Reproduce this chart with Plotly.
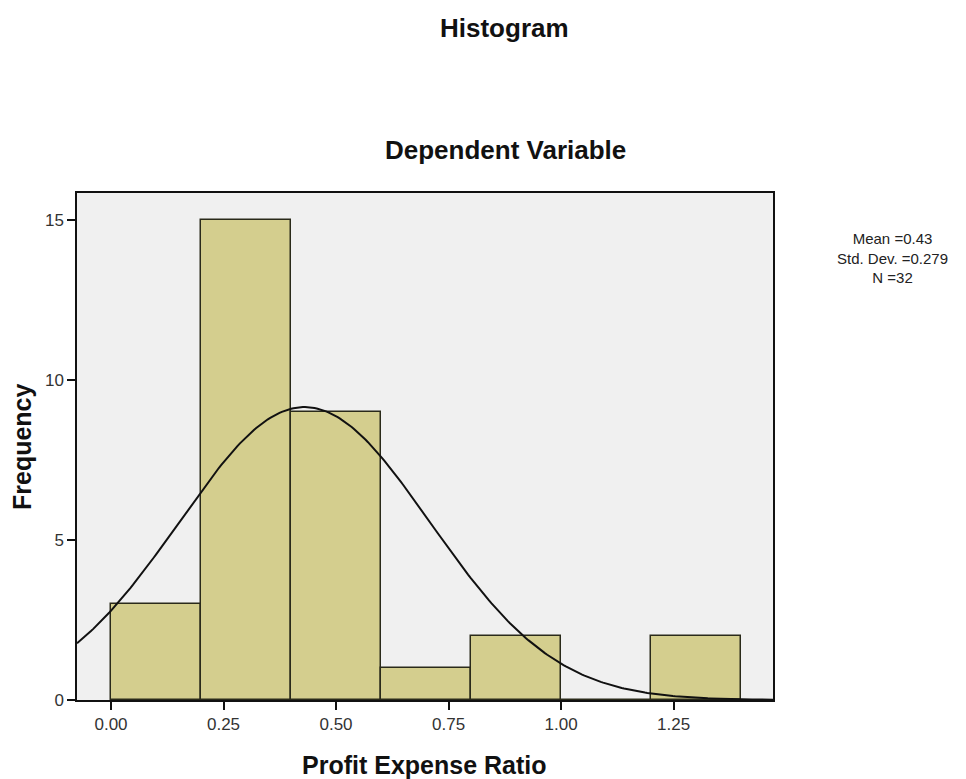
import numpy as np
import plotly.graph_objects as go

# Data
bin_left = [0.0, 0.2, 0.4, 0.6, 0.8, 1.0, 1.2]
counts = [3, 15, 9, 1, 2, 0, 2]
bin_width = 0.2
mean_val = 0.43
std_val = 0.279
n_val = 32
x_ticks = [0.0, 0.25, 0.5, 0.75, 1.0, 1.25]
x_tick_labels = ["0.00", "0.25", "0.50", "0.75", "1.00", "1.25"]
y_ticks = [0, 5, 10, 15]

x_range = [-0.0756, 1.471]
y_range = [0, 15.84]

centers = [b + bin_width / 2 for b in bin_left]

fig = go.Figure()
fig.add_trace(go.Bar(
    x=centers, y=counts, width=bin_width,
    marker=dict(color="#D4CE8E", line=dict(color="#2a2a1a", width=1.5)),
    hoverinfo="x+y", showlegend=False,
))

xs = np.linspace(x_range[0], x_range[1], 300)
pdf = n_val * bin_width / (std_val * np.sqrt(2 * np.pi)) * np.exp(-0.5 * ((xs - mean_val) / std_val) ** 2)
fig.add_trace(go.Scatter(x=xs, y=pdf, mode="lines",
                         line=dict(color="#111111", width=2),
                         showlegend=False, hoverinfo="skip"))

L, R, T, B = 77, 193, 193, 79
W, H = 966, 779
plot_w = W - L - R
plot_h = H - T - B


def px_x(px):
    return (px - L) / plot_w


def px_y(py):
    return 1 - (py - T) / plot_h


font = "Liberation Sans, Arial, sans-serif"
fig.update_layout(
    width=W, height=H,
    margin=dict(l=L, r=R, t=T, b=B, autoexpand=False),
    paper_bgcolor="white",
    plot_bgcolor="#F0F0F0",
    bargap=0,
    font=dict(family=font, color="#222222", size=17),
    xaxis=dict(range=x_range, tickvals=x_ticks, ticktext=x_tick_labels,
               ticks="outside", ticklen=8, tickwidth=1.5, tickcolor="#111",
               showgrid=False, zeroline=False, showline=True, linecolor="#111",
               linewidth=1.5, mirror=True, automargin=False,
               tickfont=dict(size=17, color="#333")),
    yaxis=dict(range=y_range, tickvals=y_ticks,
               ticks="outside", ticklen=8, tickwidth=1.5, tickcolor="#111",
               showgrid=False, zeroline=False, showline=True, linecolor="#111",
               linewidth=1.5, mirror=True, automargin=False,
               tickfont=dict(size=17, color="#333")),
    annotations=[
        dict(text="<b>Histogram</b>", x=px_x(504), y=px_y(28), xref="paper", yref="paper",
             xanchor="center", yanchor="middle",
             showarrow=False, font=dict(size=26, color="#111")),
        dict(text="<b>Dependent Variable</b>", x=px_x(505), y=px_y(150), xref="paper", yref="paper",
             xanchor="center", yanchor="middle",
             showarrow=False, font=dict(size=26, color="#111")),
        dict(text="<b>Profit Expense Ratio</b>", x=px_x(424), y=px_y(765), xref="paper", yref="paper",
             xanchor="center", yanchor="middle",
             showarrow=False, font=dict(size=25, color="#111")),
        dict(text="<b>Frequency</b>", x=px_x(22), y=px_y(447), xref="paper", yref="paper",
             xanchor="center", yanchor="middle", textangle=-90,
             showarrow=False, font=dict(size=25, color="#111")),
        dict(text="Mean =%.2f<br>Std. Dev. =%.3f<br>N =%d" % (mean_val, std_val, n_val),
             x=px_x(892), y=px_y(258), xref="paper", yref="paper", showarrow=False,
             xanchor="center", yanchor="middle",
             align="center", font=dict(size=15, color="#222")),
    ],
)

fig.write_html("out.html")
